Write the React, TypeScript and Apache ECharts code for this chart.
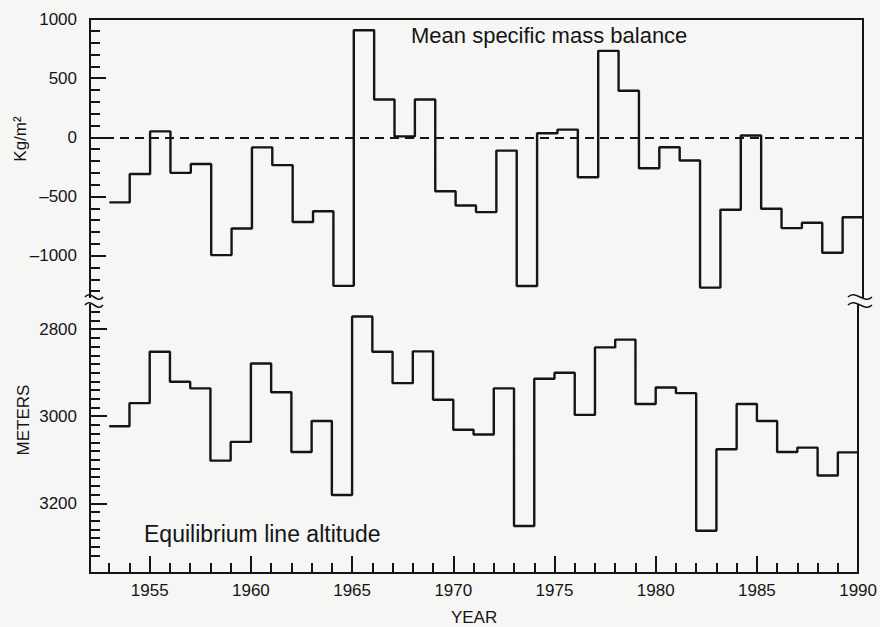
import React, { useEffect, useRef } from "react";
import * as echarts from "echarts";

// ---- data ----
const years = [
  1953, 1954, 1955, 1956, 1957, 1958, 1959, 1960, 1961, 1962, 1963, 1964, 1965,
  1966, 1967, 1968, 1969, 1970, 1971, 1972, 1973, 1974, 1975, 1976, 1977, 1978,
  1979, 1980, 1981, 1982, 1983, 1984, 1985, 1986, 1987, 1988, 1989,
];
const endYear = 1990;

// Mean specific mass balance (kg/m2), one value per year step
const massBalance = [
  -550, -310, 50, -300, -225, -995, -770, -85, -235, -715, -625, -1255, 905,
  320, 8, 320, -455, -576, -632, -112, -1256, 34, 65, -337, 731, 394,
  -261, -84, -196, -1270, -612, 15, -604, -767, -722, -975, -675,
];

// Equilibrium line altitude (m), one value per year step
const ela = [
  3023, 2970, 2852, 2921, 2936, 3102, 3059, 2879, 2945, 3082, 3011, 3181, 2771,
  2852, 2924, 2851, 2962, 3031, 3042, 2936, 3252, 2914, 2900, 2997, 2842, 2824,
  2972, 2934, 2947, 3263, 3076, 2972, 3011, 3082, 3072, 3136, 3083,
];

// ---- axis ticks / labels ----
const yearLabels = [1955, 1960, 1965, 1970, 1975, 1980, 1985, 1990];
const yearMajorTicks = [1955, 1960, 1965, 1970, 1975, 1980, 1985];
const yearMinorTicks = years.filter((y) => y % 5 !== 0);

const massLabels = [-1000, -500, 0, 500, 1000];
const massMajorTicks = [-1000, -500, 0, 500];
const massMinorTicks = [
  -1300, -1200, -1100, -900, -800, -700, -600, -400, -300, -200, -100, 100,
  200, 300, 400, 600, 700, 800, 900,
];

const elaLabels = [2800, 3000, 3200];
const elaMinorTicks = [
  2760, 2780, 2820, 2840, 2860, 2880, 2900, 2920, 2940, 2960, 2980, 3020, 3040,
  3060, 3080, 3100, 3120, 3140, 3160, 3180, 3220, 3240, 3260, 3280, 3300, 3320,
];

const X_MIN = 1952.05;
const X_MAX = 1990;
const MB_MIN = -1400;
const MB_MAX = 1000;
const ELA_MIN = 2740;
const ELA_MAX = 3360;

const INK = "#151515";
const BG = "#f6f6f5";
const SANS = '"Liberation Sans", Arial, Helvetica, sans-serif';
const LW = 2.4;

function stepData(vals: number[]) {
  const d = years.map((y, i) => [y, vals[i]]);
  d.push([endYear, vals[vals.length - 1]]);
  return d;
}

const fmtNum = (v: number) => (v < 0 ? "\u2013" + Math.abs(v) : String(v));

function wave(cx: number, y: number, w: number) {
  return {
    type: "bezierCurve",
    z: 101,
    shape: {
      x1: cx - w / 2,
      y1: y,
      x2: cx + w / 2,
      y2: y,
      cpx1: cx - w / 6,
      cpy1: y - 8,
      cpx2: cx + w / 6,
      cpy2: y + 8,
    },
    style: { stroke: INK, lineWidth: 1.6, fill: null },
  };
}

export default function App() {
  const ref = useRef<HTMLDivElement>(null);

  useEffect(() => {
    if (!ref.current) return;
    const chart = echarts.init(ref.current, null, { renderer: "svg" });

    const line = { lineStyle: { color: INK, width: 2 } };
    const noSplit = { show: false };
    const labelStyle = { fontFamily: SANS, fontSize: 17, color: INK };

    const option: any = {
      animation: false,
      backgroundColor: BG,
      grid: [
        { left: 90, right: 17, top: 19, height: 284 },
        { left: 90, right: 17, top: 303, height: 271 },
      ],
      xAxis: [
        {
          gridIndex: 0,
          type: "value",
          min: X_MIN,
          max: X_MAX,
          position: "top",
          axisLine: { show: true, onZero: false, ...line },
          axisTick: { show: false },
          axisLabel: { show: false },
          splitLine: noSplit,
        },
        {
          gridIndex: 1,
          type: "value",
          min: X_MIN,
          max: X_MAX,
          position: "bottom",
          axisLine: { show: true, onZero: false, ...line },
          axisTick: {
            show: true,
            inside: true,
            length: 10,
            customValues: yearMinorTicks,
            lineStyle: { color: INK, width: 2 },
          },
          axisLabel: { show: false },
          splitLine: noSplit,
        },
        {
          gridIndex: 1,
          type: "value",
          min: X_MIN,
          max: X_MAX,
          position: "bottom",
          axisLine: { show: false, onZero: false },
          axisTick: {
            show: true,
            inside: true,
            length: 17,
            customValues: yearMajorTicks,
            lineStyle: { color: INK, width: 2 },
          },
          axisLabel: {
            show: true,
            customValues: yearLabels,
            margin: 9,
            formatter: (v: number) => String(v),
            ...labelStyle,
          },
          splitLine: noSplit,
          name: "YEAR",
          nameLocation: "middle",
          nameGap: 36,
          nameTextStyle: { ...labelStyle },
        },
      ],
      yAxis: [
        {
          gridIndex: 0,
          type: "value",
          min: MB_MIN,
          max: MB_MAX,
          position: "left",
          axisLine: { show: true, onZero: false, ...line },
          axisTick: {
            show: true,
            inside: true,
            length: 10,
            customValues: massMinorTicks,
            lineStyle: { color: INK, width: 2 },
          },
          axisLabel: { show: false },
          splitLine: noSplit,
        },
        {
          gridIndex: 0,
          type: "value",
          min: MB_MIN,
          max: MB_MAX,
          position: "left",
          axisLine: { show: false, onZero: false },
          axisTick: {
            show: true,
            inside: true,
            length: 16,
            customValues: massMajorTicks,
            lineStyle: { color: INK, width: 2 },
          },
          axisLabel: {
            show: true,
            customValues: massLabels,
            margin: 13,
            formatter: fmtNum,
            ...labelStyle,
          },
          splitLine: noSplit,
        },
        {
          gridIndex: 0,
          type: "value",
          min: MB_MIN,
          max: MB_MAX,
          position: "right",
          axisLine: { show: true, onZero: false, ...line },
          axisTick: { show: false },
          axisLabel: { show: false },
          splitLine: noSplit,
        },
        {
          gridIndex: 1,
          type: "value",
          inverse: true,
          min: ELA_MIN,
          max: ELA_MAX,
          position: "left",
          axisLine: { show: true, onZero: false, ...line },
          axisTick: {
            show: true,
            inside: true,
            length: 10,
            customValues: elaMinorTicks,
            lineStyle: { color: INK, width: 2 },
          },
          axisLabel: { show: false },
          splitLine: noSplit,
        },
        {
          gridIndex: 1,
          type: "value",
          inverse: true,
          min: ELA_MIN,
          max: ELA_MAX,
          position: "left",
          axisLine: { show: false, onZero: false },
          axisTick: {
            show: true,
            inside: true,
            length: 17,
            customValues: elaLabels,
            lineStyle: { color: INK, width: 2 },
          },
          axisLabel: {
            show: true,
            customValues: elaLabels,
            margin: 13,
            formatter: fmtNum,
            ...labelStyle,
          },
          splitLine: noSplit,
        },
        {
          gridIndex: 1,
          type: "value",
          inverse: true,
          min: ELA_MIN,
          max: ELA_MAX,
          position: "right",
          axisLine: { show: true, onZero: false, ...line },
          axisTick: { show: false },
          axisLabel: { show: false },
          splitLine: noSplit,
        },
      ],
      series: [
        {
          type: "line",
          name: "Mean specific mass balance",
          xAxisIndex: 0,
          yAxisIndex: 0,
          step: "end",
          symbol: "none",
          data: stepData(massBalance),
          lineStyle: { color: INK, width: LW },
          markLine: {
            silent: true,
            symbol: ["none", "none"],
            label: { show: false },
            lineStyle: { color: INK, width: 2, type: [9, 6] },
            data: [{ yAxis: 0 }],
          },
        },
        {
          type: "line",
          name: "Equilibrium line altitude",
          xAxisIndex: 1,
          yAxisIndex: 3,
          step: "end",
          symbol: "none",
          data: stepData(ela),
          lineStyle: { color: INK, width: LW },
        },
      ],
      graphic: [
        {
          type: "text",
          x: 411,
          y: 35,
          z: 100,
          style: {
            text: "Mean specific mass balance",
            font: `22px ${SANS}`,
            fill: INK,
            align: "left",
            verticalAlign: "middle",
          },
        },
        {
          type: "text",
          x: 144,
          y: 534,
          z: 100,
          style: {
            text: "Equilibrium line altitude",
            font: `23px ${SANS}`,
            fill: INK,
            align: "left",
            verticalAlign: "middle",
          },
        },
        {
          type: "text",
          x: 20,
          y: 139,
          rotation: Math.PI / 2,
          z: 100,
          style: {
            text: "Kg/m\u00B2",
            font: `17px ${SANS}`,
            fill: INK,
            align: "center",
            verticalAlign: "middle",
          },
        },
        {
          type: "text",
          x: 23,
          y: 420,
          rotation: Math.PI / 2,
          z: 100,
          style: {
            text: "METERS",
            font: `17px ${SANS}`,
            fill: INK,
            align: "center",
            verticalAlign: "middle",
          },
        },
        {
          type: "rect",
          z: 100,
          shape: { x: 80, y: 298, width: 24, height: 6 },
          style: { fill: BG },
        },
        {
          type: "rect",
          z: 100,
          shape: { x: 848, y: 298, width: 26, height: 6 },
          style: { fill: BG },
        },
        wave(94, 297, 18),
        wave(94, 305, 18),
        wave(860, 297, 24),
        wave(860, 305, 24),
      ],
    };

    chart.setOption(option);
    return () => chart.dispose();
  }, []);

  return (
    <div
      ref={ref}
      style={{
        position: "fixed",
        left: 0,
        top: 0,
        width: 880,
        height: 627,
        background: BG,
      }}
    />
  );
}
